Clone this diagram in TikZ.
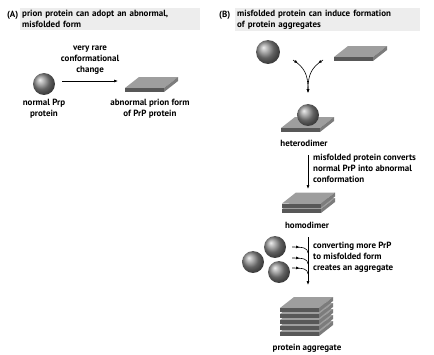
\documentclass[tikz,border=0pt]{standalone}
\usepackage{fontspec}
\setmainfont{PT Sans}
\usetikzlibrary{arrows.meta,positioning,decorations.markings}

\definecolor{headbg}{HTML}{EDEDED}
\definecolor{slabtop}{HTML}{9E9E9E}
\definecolor{slabfront}{HTML}{585858}
\definecolor{slabend}{HTML}{7C7C7C}
\definecolor{prpgray}{HTML}{8C8C8C}

\tikzset{
  slab/.pic={
    \fill[slabtop] (0,0) -- (39,0) -- (53,-11) -- (14,-11) -- cycle;
    \fill[slabfront] (0,0) rectangle (39,4);
    \fill[slabend] (39,0) -- (53,-11) -- (53,-7) -- (39,4) -- cycle;
    \coordinate (-w) at (-7,-7);
  },
  prp/.style={circle, minimum size=22pt, inner sep=0pt, shading=ball, ball color=prpgray},
  hdr/.style={fill=headbg, anchor=north west, align=left, text width=176bp, inner sep=2pt},
  lbl/.style={align=center, inner sep=0pt},
  arr/.style={-{Latex[length=4pt,width=3pt]}, line width=0.6pt},
  tip/.style={postaction=decorate, decoration={markings,
    mark=at position #1 with {\arrow{Latex[length=3.5pt,width=3pt]}}}}
}

\begin{document}
\begin{tikzpicture}[x=1bp,y=-1bp,font=\fontsize{9}{11}\selectfont\bfseries]
\useasboundingbox (0,0) rectangle (434,354);

\node[anchor=west, inner sep=0pt] (tagA) at (7,15) {(A)};
\node[hdr] (hdA) at (20,8) {prion protein can adopt an abnormal,\\misfolded form};
\node[anchor=west, inner sep=0pt] (tagB) at (219,15) {(B)};
\node[hdr, text width=181bp] (hdB) at (235,8) {misfolded protein can induce formation\\of protein aggregates};

\node[prp] (sphereA) at (44,84) {};
\pic (slabA) at (125,88) {slab};
\draw[arr] ([shift={(7,-3)}]sphereA.east) -- (slabA-w)
  node[lbl, midway, above=6pt] (rare) {very rare\\conformational\\change};
\node[lbl, below=4pt of sphereA] (normA) {normal Prp\\protein};
\node[lbl] (abnA) at (150,109) {abnormal prion form\\of PrP protein};

\node[prp, minimum size=24pt] (sphereB) at (268,52) {};
\pic (slabB) at (334,57) {slab};
\pic (slabH) at (281,128) {slab};
\node[prp] (sphereH) at (308,115) {};
\coordinate (inL) at (293,60);
\coordinate (inR) at (323,60);
\coordinate (joinH) at (308,93);
\draw[arr, tip=0.15] (inL) .. controls (304,67) and (308,74) .. (joinH);
\draw[arr, tip=0.15] (inR) .. controls (312,67) and (308,74) .. (joinH);
\node[lbl] (hetLbl) at (304,143) {heterodimer};

\coordinate (convTop) at (308,155);
\coordinate (convBot) at (308,189);
\draw[arr] (convTop) -- (convBot);
\node[anchor=north west, align=left, inner sep=0pt] (convTxt) at (313,154)
  {misfolded protein converts\\normal PrP into abnormal\\conformation};

\foreach \i in {0,1}
  \pic at (282,{209-5.5*\i}) {slab};
\node[lbl] (homLbl) at (307,225) {homodimer};

\coordinate (aggTop) at (308,237);
\coordinate (aggBot) at (308,285);
\draw[arr] (aggTop) -- (aggBot);
\foreach \y/\n in {247/1,258/2,268/3} {
  \coordinate (feed\n) at (292,\y);
  \draw[line width=0.6pt, tip=0.4] (feed\n) .. controls (304,\y) and (307.5,\y+1) .. (308,\y+6);
}
\node[anchor=north west, align=left, inner sep=0pt] (aggTxt) at (313,242)
  {converting more PrP\\to misfolded form\\creates an aggregate};
\node[prp] (ballA) at (275,247) {};
\node[prp] (ballB) at (253,262) {};
\node[prp] (ballC) at (279,272) {};

\foreach \i in {0,...,4}
  \pic at (280,{332-6*\i}) {slab};
\node[lbl] (aggLbl) at (307,348) {protein aggregate};
\end{tikzpicture}
\end{document}
